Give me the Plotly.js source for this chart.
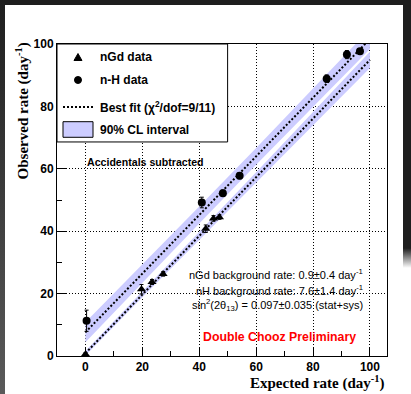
<!DOCTYPE html>
<html><head><meta charset="utf-8">
<script src="https://cdn.plot.ly/plotly-3.0.1.min.js"></script>
<style>
html,body{margin:0;padding:0;background:#fff;}
#wrap{position:relative;width:411px;height:394px;overflow:hidden;}
#chart{position:absolute;left:0;top:0;width:411px;height:394px;}
.edge{position:absolute;pointer-events:none;}
</style></head><body>
<div id="wrap"><div id="chart"></div>
<div class="edge" style="left:0;top:0;width:411px;height:5px;background:#1e1e1e"></div>
<div class="edge" style="left:0;top:0;width:5px;height:394px;background:linear-gradient(#1e1e1e,#5a5a5a)"></div>
<div class="edge" style="left:403px;top:0;width:8px;height:394px;background:linear-gradient(#1e1e1e 0%,#1e1e1e 63%,rgba(255,255,255,0) 68%)"></div>
</div>
<script>
// Observed vs expected IBD rates (day^-1), accidentals subtracted
const nhExpected = [0.4, 40.9, 48.3, 54.2, 84.8, 91.9, 96.5];
const nhObserved = [11.3, 49.2, 52.2, 57.8, 88.9, 96.6, 97.7];
const nhError    = [3.4, 1.7, 1.0, 1.0, 1.2, 1.3, 0.6];

const gdExpected = [0.0, 19.7, 23.4, 27.3, 42.3, 45.0, 47.1];
const gdObserved = [0.6, 21.4, 23.7, 26.3, 40.8, 44.1, 44.5];
const gdError    = [0.4, 1.5, 0.8, 0.7, 1.2, 0.9, 0.7];

// Best-fit lines: observed = slope * expected + background
const fitSlope = 0.94;
const gdBackground = 0.9;
const nhBackground = 7.6;

// 90% CL band half-widths along the fit
const bandX      = [0, 20, 40, 60, 80, 100];
const gdBandHalf = [0.7, 0.9, 1.2, 1.6, 2.1, 2.6];
const nhBandHalf = [3.2, 2.9, 2.7, 2.7, 2.9, 3.2];

const xTicks = [0, 20, 40, 60, 80, 100];
const yTicks = [0, 20, 40, 60, 80, 100];

const BAND = 'rgb(204,204,255)';
const SANS = 'Liberation Sans, Arial, Helvetica, sans-serif';
const SERIF = 'Liberation Serif, Times New Roman, serif';
const DOTS = '2px,2px';

function fitLine(bg) { return bandX.map(x => fitSlope * x + bg); }
function bandPolygon(bg, half) {
  const centre = fitLine(bg);
  const upper = centre.map((v, i) => v + half[i]);
  const lower = centre.map((v, i) => v - half[i]);
  return { x: bandX.concat(bandX.slice().reverse()), y: upper.concat(lower.reverse()) };
}

const gdBand = bandPolygon(gdBackground, gdBandHalf);
const nhBand = bandPolygon(nhBackground, nhBandHalf);

const traces = [
  { x: nhBand.x, y: nhBand.y, type: 'scatter', mode: 'lines', fill: 'toself',
    fillcolor: BAND, line: { width: 0 }, hoverinfo: 'skip' },
  { x: gdBand.x, y: gdBand.y, type: 'scatter', mode: 'lines', fill: 'toself',
    fillcolor: BAND, line: { width: 0 }, hoverinfo: 'skip' },
  { x: bandX, y: fitLine(nhBackground), type: 'scatter', mode: 'lines',
    line: { color: 'black', width: 2, dash: DOTS } },
  { x: bandX, y: fitLine(gdBackground), type: 'scatter', mode: 'lines',
    line: { color: 'black', width: 2, dash: DOTS } },
  { x: gdExpected, y: gdObserved, type: 'scatter', mode: 'markers', cliponaxis: false,
    marker: { symbol: 'triangle-up', size: 8, color: 'black' },
    error_y: { type: 'data', array: gdError, color: 'black', thickness: 1, width: 2 } },
  { x: nhExpected, y: nhObserved, type: 'scatter', mode: 'markers', cliponaxis: false,
    marker: { symbol: 'circle', size: 8, color: 'black' },
    error_y: { type: 'data', array: nhError, color: 'black', thickness: 1, width: 2 } }
];

const axisBase = {
  showline: true, mirror: true, linecolor: 'black', linewidth: 1,
  ticks: 'inside', ticklen: 9, tickcolor: 'black', tickwidth: 1,
  showgrid: true, gridcolor: 'black', gridwidth: 1, griddash: '1px,2px',
  zeroline: false, tickmode: 'array',
  tickfont: { family: SANS, size: 12, color: 'black', weight: 'bold' },
  minor: { ticks: 'inside', ticklen: 5, dtick: 10, tickcolor: 'black', showgrid: false }
};

const legendText = (y, t) => ({ xref: 'paper', yref: 'paper', x: 0.1242, y: y, xanchor: 'left', yanchor: 'middle',
  text: t, showarrow: false, font: { family: SANS, size: 12, color: 'black', weight: 'bold' } });

// legend key geometry (plot fractions)
const keyX = 0.0636, keyW = 0.0121, keyH = 0.0112;
const triY = 0.9583, dotY = 0.8846;

const layout = {
  width: 411, height: 394,
  margin: { l: 57, r: 24, t: 44, b: 38 },
  paper_bgcolor: 'white', plot_bgcolor: 'white',
  showlegend: false,
  xaxis: Object.assign({}, axisBase, { range: [-10, 106], tickvals: xTicks, ticktext: xTicks.map(String) }),
  yaxis: Object.assign({}, axisBase, { range: [0, 100], tickvals: yTicks, ticktext: yTicks.map(String) }),
  shapes: [
    { type: 'rect', xref: 'paper', yref: 'paper', x0: 0, x1: 0.517, y0: 0.686, y1: 1,
      fillcolor: 'white', line: { color: 'black', width: 1 }, layer: 'above' },
    { type: 'path', xref: 'paper', yref: 'paper', layer: 'above',
      path: `M ${keyX - keyW},${triY - keyH} L ${keyX + keyW},${triY - keyH} L ${keyX},${triY + keyH} Z`,
      fillcolor: 'black', line: { color: 'black', width: 1 } },
    { type: 'circle', xref: 'paper', yref: 'paper', layer: 'above',
      x0: keyX - 0.0106, x1: keyX + 0.0106, y0: dotY - 0.0112, y1: dotY + 0.0112,
      fillcolor: 'black', line: { color: 'black', width: 1 } },
    { type: 'line', xref: 'paper', yref: 'paper', x0: 0.0182, x1: 0.1121, y0: 0.7981, y1: 0.7981,
      line: { color: 'black', width: 2, dash: DOTS }, layer: 'above' },
    { type: 'rect', xref: 'paper', yref: 'paper', x0: 0.0182, x1: 0.1091, y0: 0.701, y1: 0.751,
      fillcolor: BAND, line: { color: 'black', width: 1 }, layer: 'above' }
  ],
  annotations: [
    legendText(0.9583, 'nGd data'),
    legendText(0.8846, 'n-H data'),
    legendText(0.7981, 'Best fit (χ<sup>2</sup>/dof=9/11)'),
    legendText(0.7244, '90% CL interval'),
    { x: 0, y: 62.2, xanchor: 'left', yanchor: 'middle', showarrow: false, text: 'Accidentals subtracted',
      font: { family: SANS, size: 10.6, color: 'black', weight: 'bold' } },
    { x: 98.3, y: 26.3, xanchor: 'right', yanchor: 'middle', showarrow: false,
      text: 'nGd background rate: 0.9±0.4 day<sup>-1</sup>', font: { family: SANS, size: 11, color: 'black' } },
    { x: 98.3, y: 21.2, xanchor: 'right', yanchor: 'middle', showarrow: false,
      text: 'nH background rate: 7.6±1.4 day<sup>-1</sup>', font: { family: SANS, size: 11, color: 'black' } },
    { x: 98.3, y: 16.3, xanchor: 'right', yanchor: 'middle', showarrow: false,
      text: 'sin<sup>2</sup>(2θ<sub>13</sub>) = 0.097±0.035 (stat+sys)', font: { family: SANS, size: 11, color: 'black' } },
    { x: 68.2, y: 6.1, xanchor: 'center', yanchor: 'middle', showarrow: false,
      text: 'Double Chooz Preliminary', font: { family: SANS, size: 12.3, color: 'red', weight: 'bold' } },
    { xref: 'paper', yref: 'paper', x: 1, y: -0.0865, xanchor: 'right', yanchor: 'middle', showarrow: false,
      text: 'Expected rate (day<sup>-1</sup>)', font: { family: SERIF, size: 15, color: 'black', weight: 'bold' } },
    { xref: 'paper', yref: 'paper', x: -0.106, y: 1.01, xanchor: 'center', yanchor: 'top', showarrow: false,
      textangle: -90, text: 'Observed rate (day<sup>-1</sup>)', font: { family: SERIF, size: 15, color: 'black', weight: 'bold' } }
  ]
};

Plotly.newPlot('chart', traces, layout, { staticPlot: true, displayModeBar: false });
</script></body></html>
